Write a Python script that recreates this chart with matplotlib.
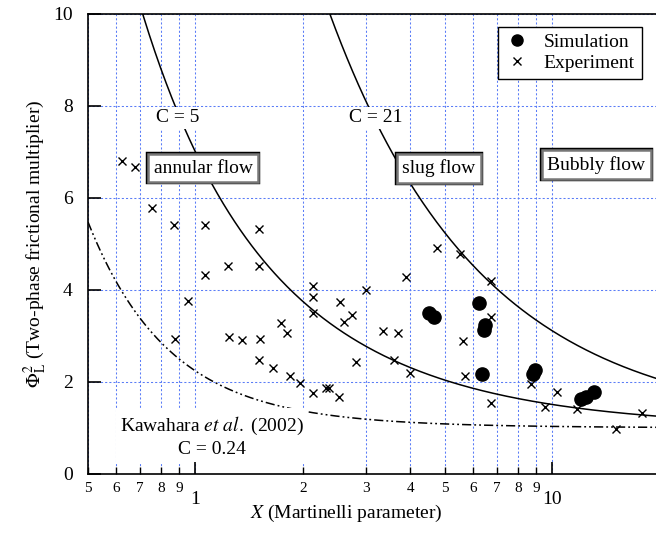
import numpy as np
import matplotlib
matplotlib.use('Agg')
import matplotlib.pyplot as plt
from matplotlib.ticker import FixedLocator, FixedFormatter
from matplotlib.lines import Line2D

plt.rcParams['font.family'] = ['Liberation Serif', 'DejaVu Serif']
plt.rcParams['mathtext.fontset'] = 'stix'

# ---------------- data ----------------
# Experiment (crosses)
exp_x = [0.622, 0.675, 0.755, 0.872, 1.067, 1.508, 1.232, 1.508, 1.067, 0.954,
         0.877, 1.243, 1.349, 1.518, 1.508, 1.654, 1.738, 1.803, 1.842, 1.965,
         2.13, 2.13, 2.13, 2.13, 2.32, 2.37, 2.53, 2.54, 2.61, 2.75,
         2.82, 3.01, 3.89, 4.76, 5.51, 6.73, 6.73, 3.36, 3.69, 3.60,
         3.98, 5.63, 5.68, 6.73, 8.70, 9.54, 10.29, 11.7, 15.1, 17.8]
exp_y = [6.80, 6.68, 5.79, 5.41, 5.41, 5.32, 4.52, 4.52, 4.33, 3.76,
         2.94, 2.98, 2.91, 2.94, 2.48, 2.31, 3.29, 3.07, 2.13, 1.97,
         4.09, 3.85, 3.49, 1.77, 1.88, 1.86, 1.68, 3.73, 3.31, 3.46,
         2.44, 4.01, 4.28, 4.91, 4.78, 4.20, 3.41, 3.11, 3.07, 2.47,
         2.19, 2.90, 2.12, 1.55, 1.96, 1.45, 1.78, 1.41, 0.97, 1.32]

# Simulation (filled circles)
sim_x = [4.50, 4.67, 6.22, 6.49, 6.44, 6.33, 8.94, 8.81, 12.0, 12.4, 13.1]
sim_y = [3.49, 3.42, 3.71, 3.24, 3.13, 2.17, 2.26, 2.17, 1.62, 1.68, 1.78]

# Chisholm constants of the boundary curves
curve_C = [5, 21]
kawahara_C = 0.24

# tick labels
major_ticks = [1, 10]
major_labels = ['1', '10']
minor_ticks = [0.5, 0.6, 0.7, 0.8, 0.9, 2, 3, 4, 5, 6, 7, 8, 9]
minor_labels = ['5', '6', '7', '8', '9', '2', '3', '4', '5', '6', '7', '8', '9']


def chisholm(x, c):
    """Two-phase multiplier: 1 + C/X + 1/X^2."""
    return 1.0 + c / x + 1.0 / x ** 2


fig = plt.figure(figsize=(6.56, 5.44), dpi=100)
ax = fig.add_axes([0.1341, 0.1287, 0.8659, 0.8456])

xmin, xmax = 0.5, 19.5
ax.set_xscale('log')
ax.set_xlim(xmin, xmax)
ax.set_ylim(0, 10)

# grid
grid_kw = dict(color='#5a7cf7', linewidth=0.75, linestyle=(0, (2, 2)))
ax.xaxis.set_major_locator(FixedLocator(major_ticks))
ax.xaxis.set_major_formatter(FixedFormatter(major_labels))
ax.xaxis.set_minor_locator(FixedLocator(minor_ticks))
ax.xaxis.set_minor_formatter(FixedFormatter(minor_labels))
ax.set_yticks([0, 2, 4, 6, 8, 10])
ax.grid(True, which='both', axis='x', **grid_kw)
ax.grid(True, which='major', axis='y', **grid_kw)
ax.set_axisbelow(True)

ax.tick_params(axis='x', which='major', direction='in', length=8.5, width=1.2,
               labelsize=14, pad=12)
ax.tick_params(axis='x', which='minor', direction='in', length=5, width=1.0,
               labelsize=11, pad=6)
ax.tick_params(axis='y', which='major', direction='in', length=9.5, width=1.2,
               labelsize=14, pad=11)
for side in ['left', 'bottom', 'top']:
    ax.spines[side].set_linewidth(1.2)
ax.spines['right'].set_visible(False)

# model curves
xs = np.logspace(np.log10(xmin), np.log10(xmax), 400)
for c in curve_C:
    ax.plot(xs, chisholm(xs, c), color='black', linewidth=1.1, zorder=2)
ax.plot(xs, chisholm(xs, kawahara_C), color='black', linewidth=1.1,
        linestyle=(0, (6, 2, 1.2, 2, 1.2, 2)), zorder=2)

# data points
ax.plot(exp_x, exp_y, linestyle='none', marker='x', color='black',
        markersize=6, markeredgewidth=1.0, zorder=4)
ax.plot(sim_x, sim_y, linestyle='none', marker='o', color='black',
        markersize=9.5, zorder=5)

# curve labels with white background
white = dict(facecolor='white', edgecolor='none', pad=1.5)
ax.text(0.891, 7.74, 'C = 5', fontsize=14, ha='center', va='center',
        bbox=white, zorder=3)
ax.text(3.19, 7.74, 'C = 21', fontsize=14, ha='center', va='center',
        bbox=white, zorder=3)
ax.text(1.11, 0.82, 'Kawahara $\\it{et}$ $\\it{al.}$ (2002)\nC = 0.24', fontsize=14,
        ha='center', va='center', linespacing=1.35,
        bbox=dict(facecolor='white', edgecolor='none', pad=3), zorder=3)

# flow regime boxes (double frame)
for xt, yt, s in [(1.051, 6.65, 'annular flow'),
                  (4.80, 6.64, 'slug flow'),
                  (13.26, 6.72, 'Bubbly flow')]:
    ax.text(xt, yt, s, fontsize=14, ha='center', va='center', zorder=6,
            bbox=dict(boxstyle='square,pad=0.28', facecolor='white',
                      edgecolor='black', linewidth=3.2))
    ax.text(xt, yt, s, fontsize=14, ha='center', va='center', zorder=7,
            bbox=dict(boxstyle='square,pad=0.28', facecolor='white',
                      edgecolor='#777777', linewidth=1.8))

# legend
handles = [Line2D([], [], linestyle='none', marker='o', color='black', markersize=8),
           Line2D([], [], linestyle='none', marker='x', color='black',
                  markersize=6, markeredgewidth=1.0)]
leg = ax.legend(handles, ['Simulation', 'Experiment'], loc='upper right',
                bbox_to_anchor=(0.975, 0.972), fontsize=14, frameon=True,
                fancybox=False, edgecolor='black', framealpha=1,
                handlelength=1.2, handletextpad=0.8, borderpad=0.35,
                labelspacing=0.15, borderaxespad=0)
leg.get_frame().set_linewidth(1.0)
leg.set_zorder(8)

# axis labels
ax.set_xlabel('$X$ (Martinelli parameter)', fontsize=14, va='center')
ax.xaxis.set_label_coords(0.454, -0.085)
ax.set_ylabel('$\\Phi_{\\rm L}^{2}$ (Two-phase frictional multiplier)',
              fontsize=14, va='center', ha='center')
ax.yaxis.set_label_coords(-0.092, 0.5)

fig.savefig('out.png', dpi=100)
